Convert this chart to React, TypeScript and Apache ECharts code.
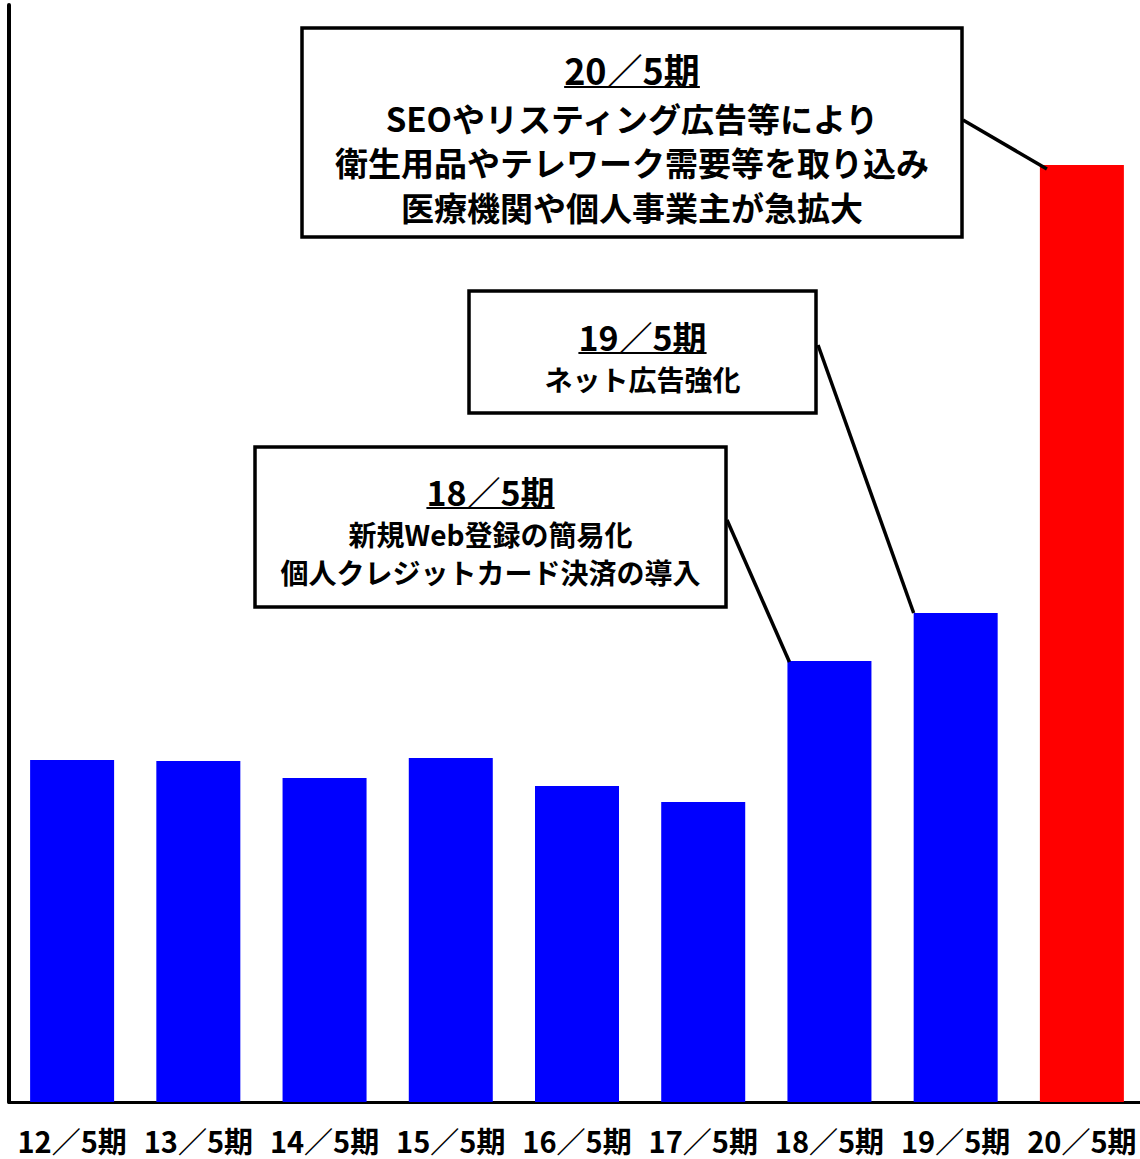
import React, { useEffect, useRef } from "react";
import * as echarts from "echarts";

const categories = ["12／5期", "13／5期", "14／5期", "15／5期", "16／5期", "17／5期", "18／5期", "19／5期", "20／5期"];
const values = [342, 341, 324, 344, 316, 300, 441, 489, 937];
const highlightIndex = 8;
const yMax = 1097;

const FONT = "'Noto Sans CJK JP', 'Noto Sans', sans-serif";

type Note = {
  title: string;
  lines: string[];
  box: [number, number, number, number];
  titleY: number;
  titleSize: number;
  lineYs: number[];
  lineSize: number;
  target: number;
  from: [number, number];
  toOffset: [number, number];
};

const notes: Note[] = [
  {
    title: "20／5期",
    lines: ["SEOやリスティング広告等により", "衛生用品やテレワーク需要等を取り込み", "医療機関や個人事業主が急拡大"],
    box: [302, 28, 660, 209],
    titleY: 69,
    titleSize: 36,
    lineYs: [118, 162, 207],
    lineSize: 33,
    target: 8,
    from: [963, 120],
    toOffset: [7, 4],
  },
  {
    title: "19／5期",
    lines: ["ネット広告強化"],
    box: [469, 291, 347, 122],
    titleY: 336,
    titleSize: 34,
    lineYs: [379],
    lineSize: 28,
    target: 7,
    from: [818, 345],
    toOffset: [0, 0],
  },
  {
    title: "18／5期",
    lines: ["新規Web登録の簡易化", "個人クレジットカード決済の導入"],
    box: [255, 447, 471, 160],
    titleY: 491,
    titleSize: 34,
    lineYs: [534, 572],
    lineSize: 28,
    target: 6,
    from: [727, 520],
    toOffset: [2, 1],
  },
];

function measure(text: string, font: string): number {
  const c = document.createElement("canvas");
  const ctx = c.getContext("2d");
  if (!ctx) return text.length * 20;
  ctx.font = font;
  return ctx.measureText(text).width;
}

export default function App() {
  const ref = useRef<HTMLDivElement>(null);
  useEffect(() => {
    if (!ref.current) return;
    const chart = echarts.init(ref.current, null, { renderer: "svg" });
    const barWidth = 84;
    chart.setOption({
      animation: false,
      grid: { left: 9, top: 5, width: 1136, bottom: 57, containLabel: false },
      xAxis: {
        type: "category",
        data: categories,
        axisLine: { show: true, lineStyle: { color: "#000", width: 3 } },
        axisTick: { show: false },
        axisLabel: {
          color: "#000",
          fontSize: 29,
          fontWeight: "bold",
          fontFamily: FONT,
          margin: 23,
          interval: 0,
        },
      },
      yAxis: {
        type: "value",
        min: 0,
        max: yMax,
        axisLine: { show: true, lineStyle: { color: "#000", width: 4 } },
        axisTick: { show: false },
        axisLabel: { show: false },
        splitLine: { show: false },
      },
      series: [
        {
          type: "bar",
          barWidth,
          data: values.map((v, i) => ({
            value: v,
            itemStyle: { color: i === highlightIndex ? "#FF0000" : "#0000FF" },
          })),
        },
      ],
    });

    const elements: any[] = [];
    notes.forEach((n) => {
      const [bx, by, bw, bh] = n.box;
      const cx = bx + bw / 2;
      const top = chart.convertToPixel({ gridIndex: 0 }, [n.target, values[n.target]]) as number[];
      const tx = top[0] - barWidth / 2 + n.toOffset[0];
      const ty = top[1] + n.toOffset[1];
      elements.push({
        type: "line",
        z: 10,
        shape: { x1: n.from[0], y1: n.from[1], x2: tx, y2: ty },
        style: { stroke: "#000", lineWidth: 3.5 },
      });
      elements.push({
        type: "rect",
        z: 11,
        shape: { x: bx, y: by, width: bw, height: bh },
        style: { fill: "#fff", stroke: "#000", lineWidth: 3.5 },
      });
      const titleFont = `bold ${n.titleSize}px ${FONT}`;
      elements.push({
        type: "text",
        z: 12,
        style: {
          text: n.title,
          x: cx,
          y: n.titleY,
          font: titleFont,
          fill: "#000",
          align: "center",
          verticalAlign: "middle",
        },
      });
      const tw = measure(n.title, titleFont);
      const uy = n.titleY + n.titleSize * 0.5;
      elements.push({
        type: "line",
        z: 12,
        shape: { x1: cx - tw / 2, y1: uy, x2: cx + tw / 2, y2: uy },
        style: { stroke: "#000", lineWidth: 2 },
      });
      n.lines.forEach((l, k) => {
        elements.push({
          type: "text",
          z: 12,
          style: {
            text: l,
            x: cx,
            y: n.lineYs[k],
            font: `bold ${n.lineSize}px ${FONT}`,
            fill: "#000",
            align: "center",
            verticalAlign: "middle",
          },
        });
      });
    });
    chart.setOption({ graphic: { elements } });
    return () => chart.dispose();
  }, []);
  return (
    <div style={{ position: "fixed", left: 0, top: 0, width: 1140, height: 1159, overflow: "hidden", background: "#fff" }}>
      <div ref={ref} style={{ width: 1150, height: 1159 }} />
    </div>
  );
}
